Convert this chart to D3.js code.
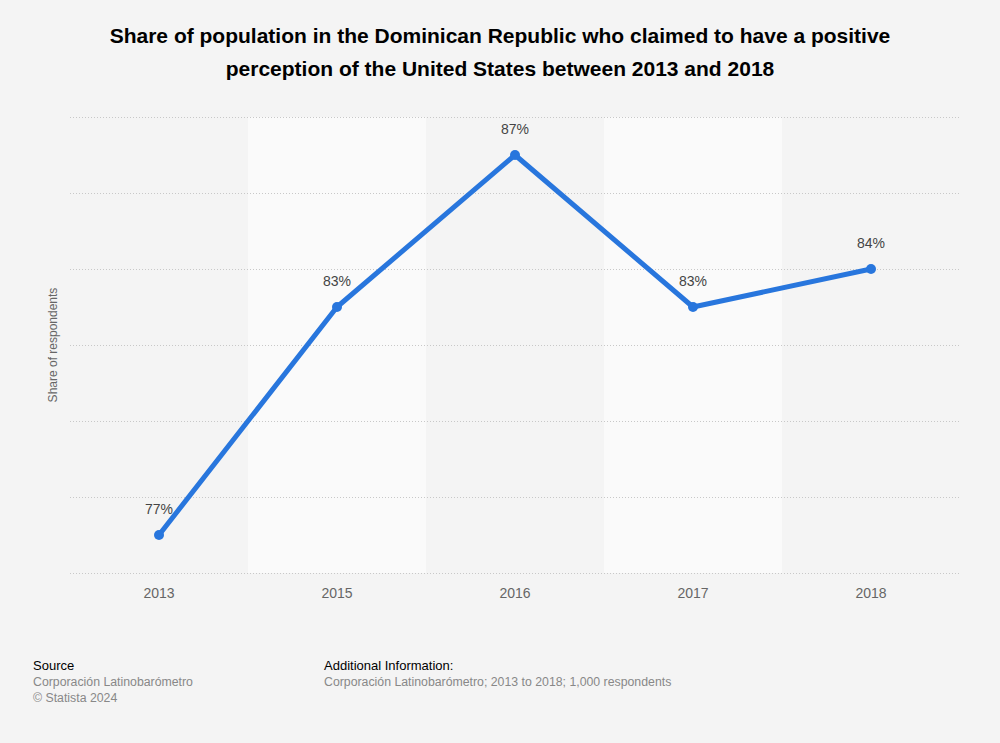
<!DOCTYPE html>
<html><head><meta charset="utf-8">
<script src="https://cdn.jsdelivr.net/npm/d3@7"></script>
<style>body{margin:0;background:#f4f4f4;}svg{display:block;font-family:"Liberation Sans",Arial,sans-serif;}</style>
</head><body>
<script>
const years = ["2013","2015","2016","2017","2018"];
const values = [77, 83, 87, 83, 84];
const valueLabels = ["77%","83%","87%","83%","84%"];
const yTicks = [76, 78, 80, 82, 84, 86, 88];
const titleLines = ["Share of population in the Dominican Republic who claimed to have a positive","perception of the United States between 2013 and 2018"];

const W = 1000, H = 743;
const svg = d3.select("body").append("svg").attr("width", W).attr("height", H);
svg.append("rect").attr("width", W).attr("height", H).attr("fill", "#f4f4f4");

const x = d3.scaleBand().domain(years).range([70, 960]).padding(0);
const y = d3.scaleLinear().domain([76, 88]).range([573, 117]);

// alternating bands
svg.selectAll("rect.band").data(years).enter().append("rect")
  .attr("x", d => x(d)).attr("y", 117).attr("width", x.bandwidth()).attr("height", 573 - 117)
  .attr("fill", (d, i) => i % 2 === 1 ? "#fafafa" : "#f4f4f4");

// grid
svg.selectAll("line.grid").data(yTicks).enter().append("line")
  .attr("x1", 70).attr("x2", 960).attr("y1", d => Math.round(y(d)) + 0.5).attr("y2", d => Math.round(y(d)) + 0.5)
  .attr("stroke", "#c8c8c8").attr("stroke-width", 1).attr("stroke-dasharray", "1,2");

// title
svg.append("text").attr("x", 500).attr("y", 43).attr("text-anchor", "middle")
  .attr("font-size", 21).attr("font-weight", "bold").attr("fill", "#000")
  .selectAll("tspan").data(titleLines).enter().append("tspan")
  .attr("x", 500).attr("dy", (d, i) => i === 0 ? 0 : 33).text(d => d);

// x axis labels
const xAxis = d3.axisBottom(x).tickSize(0).tickPadding(0);
const gx = svg.append("g").attr("transform", "translate(0,573)").call(xAxis);
gx.select(".domain").remove();
gx.selectAll("text").attr("font-size", 14).attr("fill", "#666").attr("dy", "25px")
  .attr("font-family", "Liberation Sans, Arial, sans-serif");

// y axis title
svg.append("text").attr("transform", "translate(57,345) rotate(-90)").attr("text-anchor", "middle")
  .attr("font-size", 12).attr("fill", "#666").text("Share of respondents");

const cx = d => x(d) + x.bandwidth() / 2;
const line = d3.line().x((d, i) => cx(years[i])).y(d => y(d));
svg.append("path").datum(values).attr("d", line).attr("fill", "none")
  .attr("stroke", "#2876dd").attr("stroke-width", 5).attr("stroke-linejoin", "round").attr("stroke-linecap", "round");

svg.selectAll("circle.pt").data(values).enter().append("circle")
  .attr("cx", (d, i) => cx(years[i])).attr("cy", d => y(d)).attr("r", 5).attr("fill", "#2876dd");

svg.selectAll("text.val").data(values).enter().append("text")
  .attr("x", (d, i) => cx(years[i])).attr("y", d => y(d) - 21).attr("text-anchor", "middle")
  .attr("font-size", 14).attr("fill", "#444").text((d, i) => valueLabels[i]);

// footer
svg.append("text").attr("x", 33).attr("y", 670).attr("font-size", 13).attr("fill", "#000").text("Source");
svg.append("text").attr("x", 33).attr("y", 686).attr("font-size", 12.3).attr("fill", "#888").text("Corporación Latinobarómetro");
svg.append("text").attr("x", 33).attr("y", 702).attr("font-size", 12.3).attr("fill", "#888").text("© Statista 2024");
svg.append("text").attr("x", 324).attr("y", 670).attr("font-size", 13).attr("fill", "#000").text("Additional Information:");
svg.append("text").attr("x", 324).attr("y", 686).attr("font-size", 12.3).attr("fill", "#888").text("Corporación Latinobarómetro; 2013 to 2018; 1,000 respondents");
</script>
</body></html>
